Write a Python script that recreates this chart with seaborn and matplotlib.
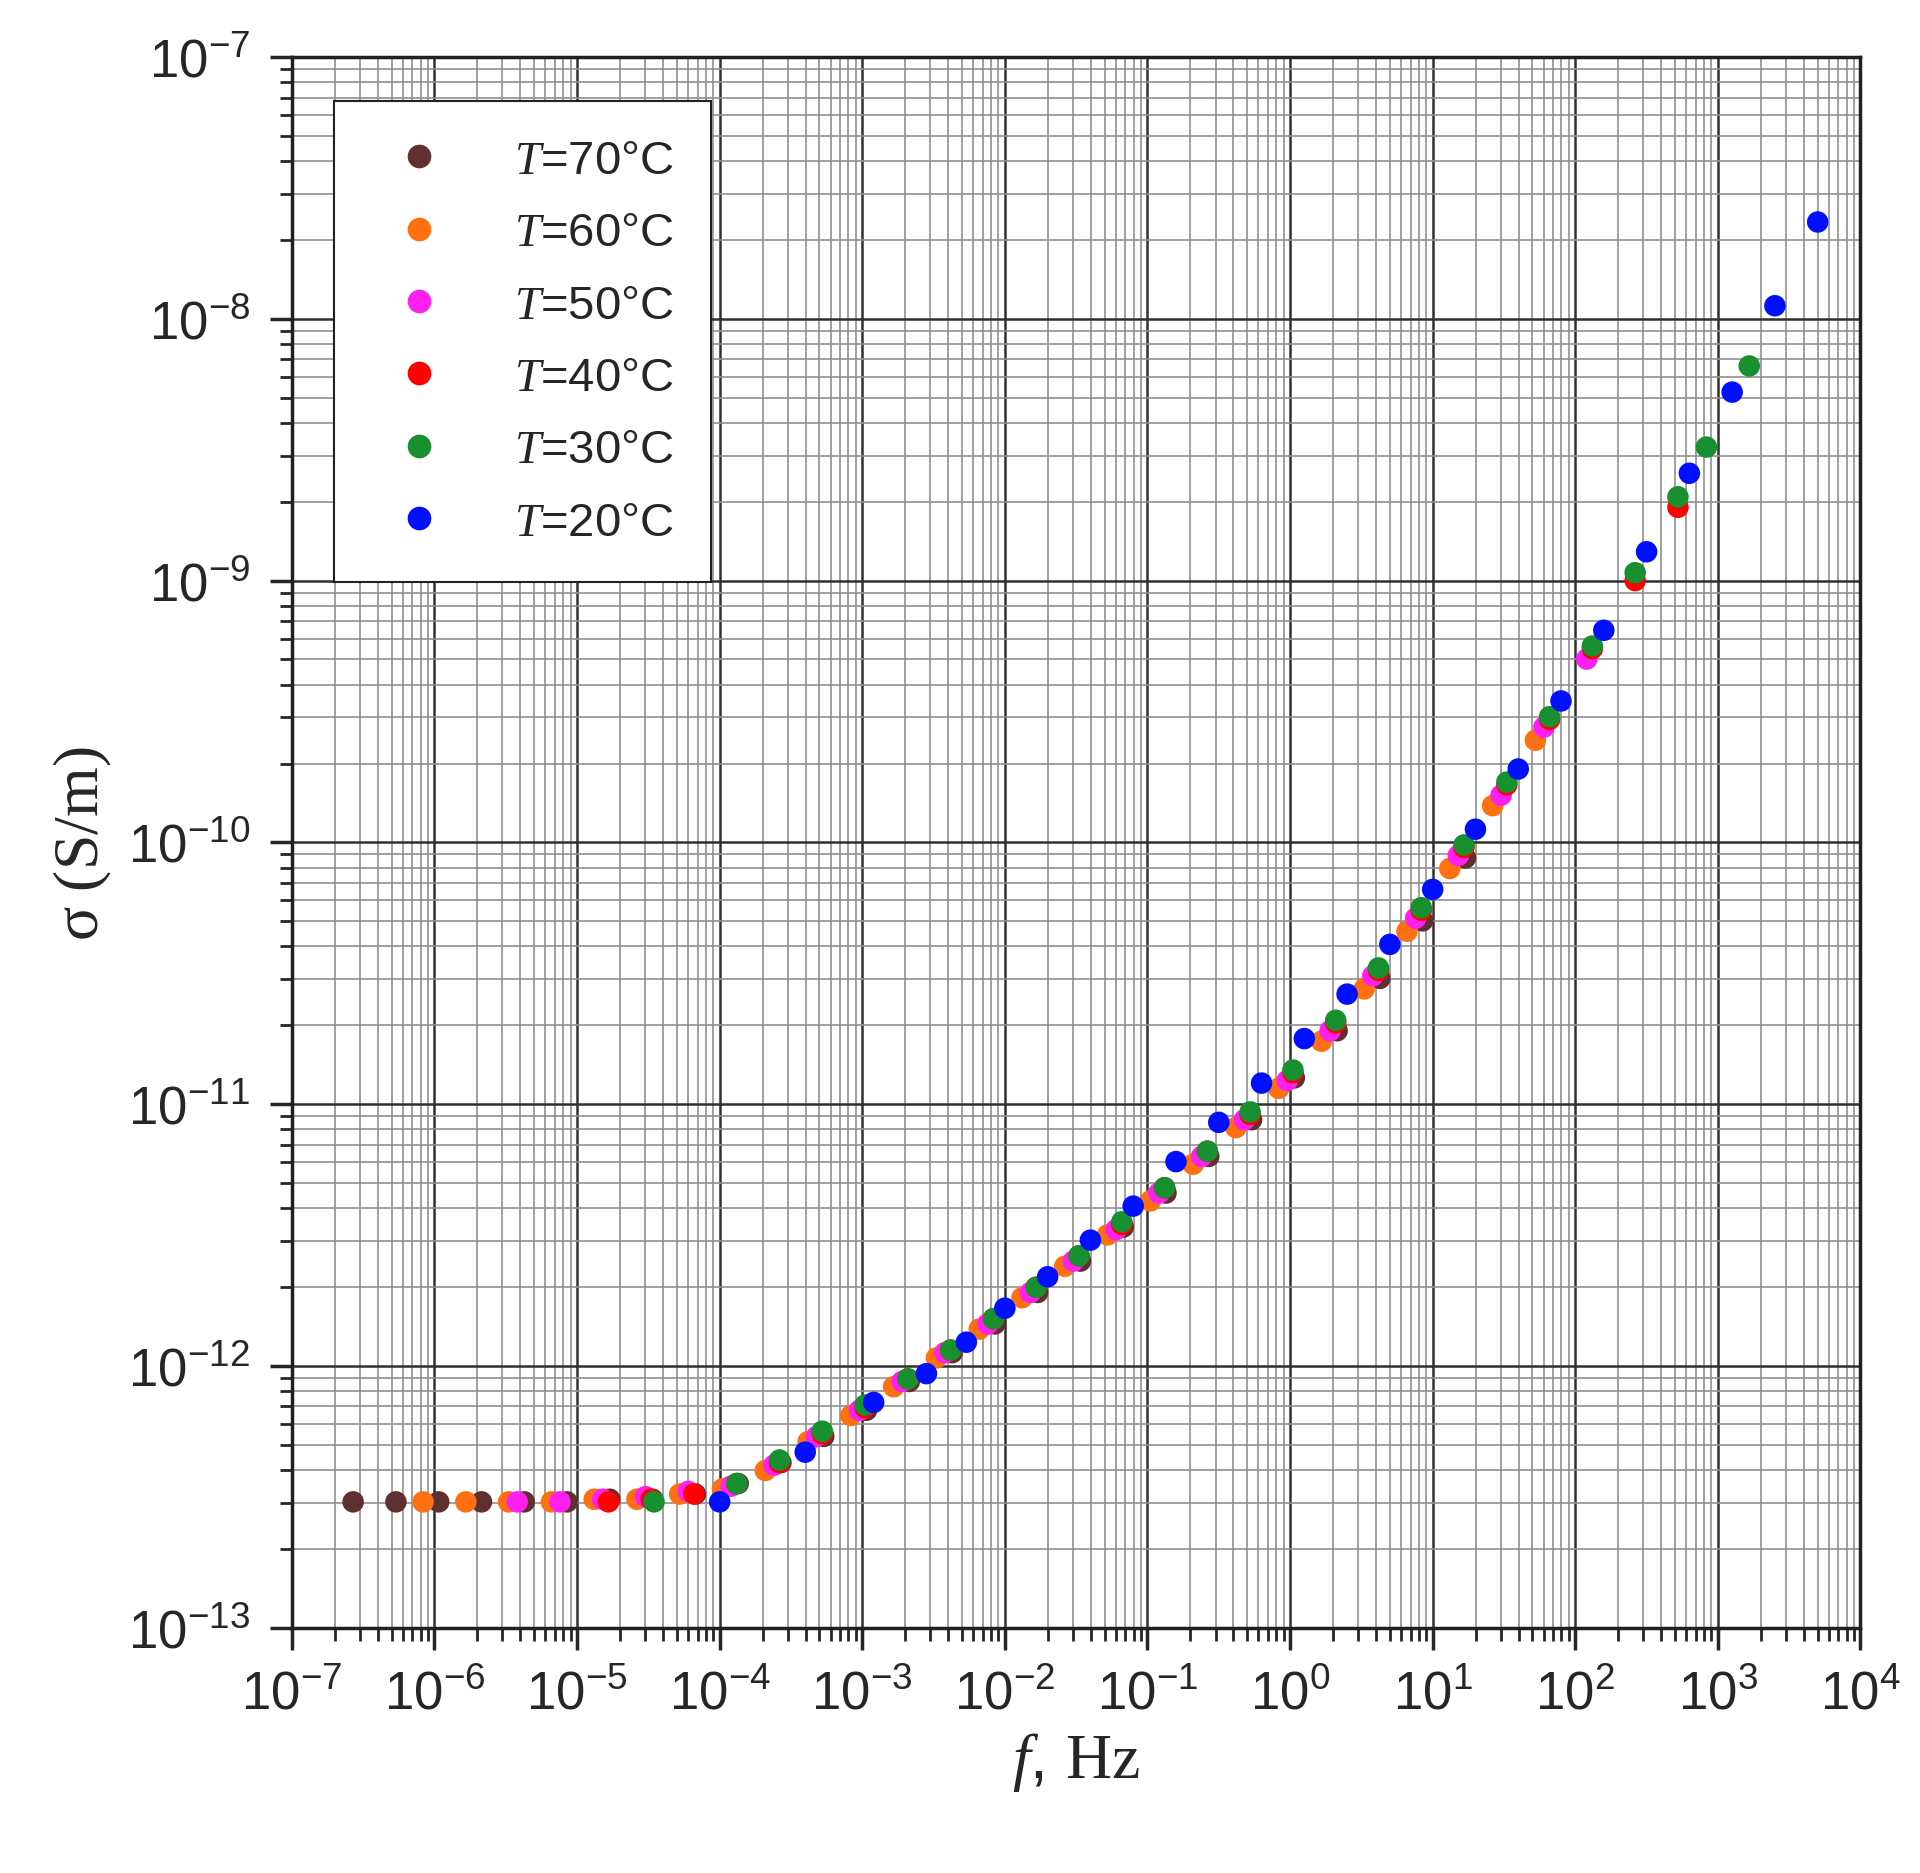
import numpy as np
import pandas as pd
import seaborn as sns
import matplotlib.pyplot as plt
from matplotlib.ticker import LogLocator, NullFormatter

# log10 of frequency (Hz) and log10 of conductivity (S/m)
lf_70 = [-6.57,-6.27,-5.97,-5.67,-5.37,-5.07,-4.77,-4.47,-4.17,-3.87,-3.57,-3.27,-2.97,-2.67,-2.37,-2.07,-1.77,-1.47,-1.17,-0.87,-0.57,-0.27,0.03,0.33,0.63,0.93,1.23]
ls_70 = [-12.52,-12.52,-12.52,-12.52,-12.52,-12.52,-12.51,-12.51,-12.49,-12.45,-12.37,-12.27,-12.17,-12.06,-11.95,-11.84,-11.72,-11.60,-11.47,-11.34,-11.20,-11.06,-10.90,-10.72,-10.52,-10.30,-10.06]
lf_60 = [-6.08,-5.78,-5.48,-5.18,-4.88,-4.58,-4.28,-3.98,-3.68,-3.38,-3.08,-2.78,-2.48,-2.18,-1.88,-1.58,-1.28,-0.98,-0.68,-0.38,-0.08,0.22,0.52,0.82,1.12,1.42,1.72]
ls_60 = [-12.52,-12.52,-12.52,-12.52,-12.51,-12.51,-12.49,-12.47,-12.40,-12.29,-12.19,-12.08,-11.97,-11.86,-11.74,-11.62,-11.50,-11.37,-11.23,-11.09,-10.94,-10.76,-10.56,-10.34,-10.10,-9.86,-9.61]
lf_50 = [-5.42,-5.12,-4.82,-4.52,-4.22,-3.92,-3.62,-3.32,-3.02,-2.72,-2.42,-2.12,-1.82,-1.52,-1.22,-0.92,-0.62,-0.32,-0.02,0.28,0.58,0.88,1.18,1.48,1.78,2.08]
ls_50 = [-12.52,-12.52,-12.51,-12.50,-12.48,-12.46,-12.38,-12.27,-12.17,-12.06,-11.95,-11.84,-11.72,-11.60,-11.48,-11.34,-11.20,-11.06,-10.91,-10.72,-10.51,-10.29,-10.05,-9.82,-9.56,-9.30]
lf_40 = [-4.78,-4.48,-4.18,-3.88,-3.58,-3.28,-2.98,-2.68,-2.38,-2.08,-1.78,-1.48,-1.18,-0.88,-0.58,-0.28,0.02,0.32,0.62,0.92,1.22,1.52,1.82,2.12,2.42,2.72]
ls_40 = [-12.52,-12.51,-12.49,-12.45,-12.37,-12.26,-12.16,-12.05,-11.94,-11.82,-11.70,-11.58,-11.46,-11.32,-11.18,-11.04,-10.88,-10.69,-10.49,-10.26,-10.02,-9.78,-9.53,-9.26,-9.00,-8.72]
lf_30 = [-4.46,-3.88,-3.58,-3.28,-2.98,-2.68,-2.38,-2.08,-1.78,-1.48,-1.18,-0.88,-0.58,-0.28,0.02,0.32,0.62,0.92,1.22,1.52,1.82,2.12,2.42,2.72,2.92,3.22]
ls_30 = [-12.52,-12.45,-12.36,-12.25,-12.15,-12.05,-11.94,-11.82,-11.70,-11.58,-11.45,-11.32,-11.18,-11.03,-10.87,-10.68,-10.48,-10.25,-10.01,-9.77,-9.52,-9.25,-8.97,-8.68,-8.49,-8.18]
lf_20 = [-4.0,-3.4,-2.92,-2.55,-2.27,-2.0,-1.7,-1.4,-1.1,-0.8,-0.5,-0.2,0.1,0.4,0.7,1.0,1.3,1.6,1.9,2.2,2.5,2.8,3.1,3.4,3.7]
ls_20 = [-12.52,-12.33,-12.14,-12.03,-11.91,-11.78,-11.66,-11.52,-11.39,-11.22,-11.07,-10.92,-10.75,-10.58,-10.39,-10.18,-9.95,-9.72,-9.46,-9.19,-8.89,-8.59,-8.28,-7.95,-7.63]

labels = ['$\\it{T}$=70°C', '$\\it{T}$=60°C', '$\\it{T}$=50°C', '$\\it{T}$=40°C', '$\\it{T}$=30°C', '$\\it{T}$=20°C']
colors = ['#603030', '#ff7010', '#ff20f0', '#ff0000', '#189030', '#0010ff']

frames = []
for lab, lf, ls in zip(labels, [lf_70, lf_60, lf_50, lf_40, lf_30, lf_20],
                       [ls_70, ls_60, ls_50, ls_40, ls_30, ls_20]):
    frames.append(pd.DataFrame({'f': 10.0 ** np.array(lf), 'sigma': 10.0 ** np.array(ls), 'T': lab}))
df = pd.concat(frames, ignore_index=True)

sns.set_style('white')
plt.rcParams['font.family'] = ['Liberation Sans', 'DejaVu Sans']
plt.rcParams['mathtext.fontset'] = 'custom'
plt.rcParams['mathtext.it'] = 'Liberation Serif:italic'
plt.rcParams['mathtext.rm'] = 'Liberation Serif'

fig = plt.figure(figsize=(19.2, 18.74), dpi=100)
ax = fig.add_axes([0.152, 0.131, 0.817, 0.838])
ax.set_xscale('log')
ax.set_yscale('log')

sns.scatterplot(data=df, x='f', y='sigma', hue='T', hue_order=labels, palette=colors,
                s=240, marker='o', edgecolor='none', ax=ax, zorder=3)

ax.set_xlim(1e-7, 1e4)
ax.set_ylim(1e-13, 1e-7)
ax.xaxis.set_major_locator(LogLocator(base=10, numticks=20))
ax.yaxis.set_major_locator(LogLocator(base=10, numticks=20))
ax.xaxis.set_minor_locator(LogLocator(base=10, subs=np.arange(2, 10), numticks=200))
ax.yaxis.set_minor_locator(LogLocator(base=10, subs=np.arange(2, 10), numticks=200))
ax.xaxis.set_minor_formatter(NullFormatter())
ax.yaxis.set_minor_formatter(NullFormatter())
ax.grid(which='major', color='#303030', lw=1.8, zorder=0)
ax.grid(which='minor', color='#909090', lw=1.2, zorder=0)
ax.set_axisbelow(True)
for sp in ax.spines.values():
    sp.set_color('#202020')
    sp.set_linewidth(2.5)
ax.tick_params(which='major', direction='out', length=16, width=2.5, labelsize=38, pad=14,
               bottom=True, left=True)
ax.tick_params(which='minor', direction='out', length=9, width=2, bottom=True, left=True)

ax.set_xlabel('$\\it{f}$, $\\mathrm{Hz}$', fontsize=46, labelpad=8)
ax.set_ylabel('$\\mathrm{\\sigma\\ (S/m)}$', fontsize=46, labelpad=10)

leg = ax.legend(loc='upper left', bbox_to_anchor=(0.012, 0.987), fontsize=34, markerscale=1.1,
                frameon=True, fancybox=False, edgecolor='#202020', framealpha=1,
                borderpad=0.8, labelspacing=0.6, handletextpad=1.0)
leg.get_frame().set_linewidth(1.5)

fig.savefig('out.png', dpi=100)
